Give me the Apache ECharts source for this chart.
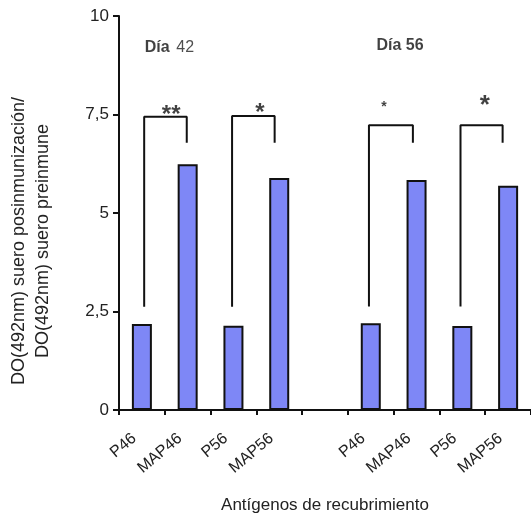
<!DOCTYPE html>
<html>
<head>
<meta charset="utf-8">
<script src="https://cdn.jsdelivr.net/npm/echarts@6/dist/echarts.min.js"></script>
<style>
html,body{margin:0;padding:0;background:#fff;}
#chart{width:531px;height:516px;}
</style>
</head>
<body>
<div id="chart"></div>
<script>
// ---- data ----
const categories = ['P46', 'MAP46', 'P56', 'MAP56', '', 'P46', 'MAP46', 'P56', 'MAP56'];
const ratioValues = [2.18, 6.24, 2.14, 5.89, null, 2.2, 5.84, 2.13, 5.69];
const yTickValues = [0, 2.5, 5, 7.5, 10];
const yTickLabels = ['0', '2,5', '5', '7,5', '10'];
const yTitleLines = ['DO(492nm) suero posinmunización/', 'DO(492nm) suero preinmune'];
const xTitle = 'Antígenos de recubrimiento';
// significance brackets (x in category-index units)
const bracketLeftX = [0.05, 1.97, 4.96, 6.96];
const bracketRightX = [0.98, 2.90, 5.92, 7.88];
const bracketTop = [7.44, 7.46, 7.23, 7.23];
const bracketLeftBottom = [2.62, 2.62, 2.63, 2.63];
const bracketRightBottom = [6.78, 6.78, 6.78, 6.78];
const starTexts = ['**', '*', '*', '*'];
const starX = [0.64, 2.58, 5.29, 7.49];
const starY = [7.62, 7.66, 7.77, 7.87];
const starSizes = [24, 24, 14, 26];
const dayLabels = ['{b|Día}  {n|42}', '{b|Día 56}'];
const dayX = [0.6, 5.64];
const dayY = [9.21, 9.26];

const chart = echarts.init(document.getElementById('chart'), null, {renderer: 'canvas'});
const FONT = 'Liberation Sans, Arial, Helvetica, sans-serif';
const TXT = '#222';

const series = [{
  type: 'bar',
  xAxisIndex: 0,
  data: ratioValues,
  barWidth: 20,
  itemStyle: {color: '#7e87f6', borderColor: '#111', borderWidth: 2},
  silent: true
}];

bracketLeftX.forEach((lx, i) => {
  series.push({
    type: 'line',
    xAxisIndex: 1,
    data: [[lx, bracketLeftBottom[i]], [lx, bracketTop[i]], [bracketRightX[i], bracketTop[i]], [bracketRightX[i], bracketRightBottom[i]]],
    symbol: 'none',
    lineStyle: {color: '#111', width: 2},
    silent: true
  });
});

series.push({
  type: 'scatter',
  xAxisIndex: 1,
  symbolSize: 1,
  itemStyle: {color: 'rgba(0,0,0,0)'},
  silent: true,
  data: starTexts.map((t, i) => ({
    value: [starX[i], starY[i]],
    label: {show: true, position: 'inside', formatter: t, fontSize: starSizes[i], fontWeight: 'bold', color: '#111', fontFamily: FONT, offset: [0, starSizes[i] * 0.22]}
  })).concat(dayLabels.map((t, i) => ({
    value: [dayX[i], dayY[i]],
    label: {show: true, position: 'inside', formatter: t, color: '#111', fontFamily: FONT,
      rich: {b: {fontWeight: 'bold', fontSize: 16, fontFamily: FONT, color: '#111'}, n: {fontSize: 16, fontFamily: FONT, color: '#222'}}}
  })))
});

chart.setOption({
  animation: false,
  backgroundColor: '#fff',
  grid: {left: 119, right: -6, top: 16, bottom: 106, containLabel: false},
  xAxis: [{
    type: 'category',
    data: categories,
    boundaryGap: true,
    axisLine: {onZero: false, lineStyle: {color: '#111', width: 2}},
    axisTick: {show: true, length: 5, inside: false, lineStyle: {color: '#111', width: 2}},
    axisLabel: {interval: 0, rotate: 40, fontSize: 16, color: TXT, fontFamily: FONT, margin: 20, padding: [0, 10, 0, 0]},
    splitLine: {show: false}
  }, {
    type: 'value', min: -0.5, max: 8.5, show: false
  }],
  yAxis: {
    type: 'value',
    min: 0, max: 10, interval: 2.5,
    axisLine: {show: true, onZero: false, lineStyle: {color: '#111', width: 2}},
    axisTick: {show: true, length: 6, lineStyle: {color: '#111', width: 2}},
    axisLabel: {fontSize: 17, color: TXT, fontFamily: FONT, margin: 10,
      formatter: v => { const k = yTickValues.indexOf(v); return k >= 0 ? yTickLabels[k] : ''; }},
    splitLine: {show: false}
  },
  graphic: [{
    type: 'text',
    x: 31, y: 241,
    rotation: Math.PI / 2,
    style: {text: yTitleLines.join('\n'), font: '18px ' + FONT, fill: TXT, textAlign: 'center', textVerticalAlign: 'middle', lineHeight: 24}
  }, {
    type: 'text',
    x: 325, y: 505,
    style: {text: xTitle, font: '17px ' + FONT, fill: TXT, textAlign: 'center', textVerticalAlign: 'middle'}
  }],
  series: series
});
</script>
</body>
</html>
